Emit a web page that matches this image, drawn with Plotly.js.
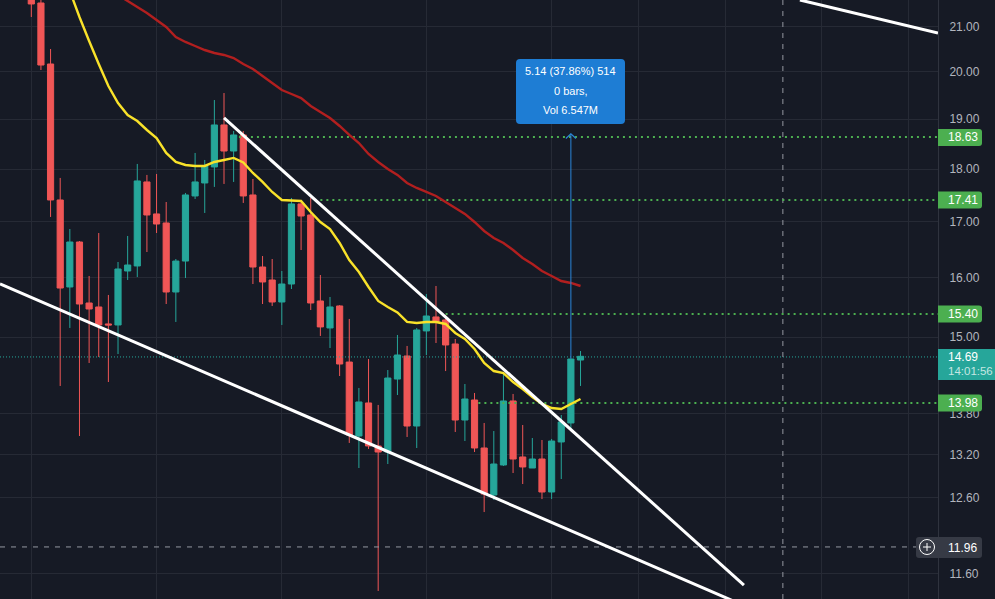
<!DOCTYPE html>
<html>
<head>
<meta charset="utf-8">
<script src="https://cdn.plot.ly/plotly-3.0.1.min.js"></script>
<style>html,body{margin:0;padding:0;background:#161a25;overflow:hidden}#c{width:995px;height:599px}</style>
</head>
<body>
<div id="c"></div>
<script>
// ---- candle values (log price chart) ----
const opens = [21.9,21.554,20.173,17.406,15.838,16.63,15.565,15.498,15.215,15.198,16.115,16.203,17.75,17.144,16.977,15.752,16.29,17.482,17.73,18.041,18.882,18.356,18.678,17.501,16.185,15.958,15.582,15.889,17.331,17.125,15.599,15.149,15.515,14.599,13.473,13.965,13.328,13.241,14.332,14.695,13.62,15.1,15.331,15.281,14.888,13.709,14.01,13.299,12.638,13.056,13.995,13.17,13.013,13.141,12.679,13.386,13.665,14.631];
const highs = [22.1,21.86,20.504,17.827,16.866,16.648,16.028,16.793,15.701,16.273,16.739,18.1,17.885,17.904,17.368,16.326,17.539,18.317,18.178,19.4,19.548,18.759,18.759,17.807,16.379,16.326,16.115,17.444,17.406,17.444,16.045,15.667,15.53,15.298,14.194,14.647,13.935,14.473,15.034,14.856,15.149,15.718,15.855,15.364,14.969,14.255,14.117,13.665,13.546,14.442,14.102,13.635,13.444,13.415,13.43,13.784,14.65,14.775];
const lows = [21.229,20.042,17.088,14.225,15.149,13.473,14.584,14.679,14.286,14.727,15.958,16.01,16.45,16.793,15.548,15.248,15.993,17.425,17.162,17.654,17.711,17.75,17.35,15.889,15.548,15.515,15.198,15.803,16.486,15.447,15.018,14.823,14.379,13.372,13.013,13.285,11.388,13.07,14.086,13.459,13.299,14.711,14.904,14.457,13.532,13.4,13.241,12.406,12.569,13.042,12.943,12.789,13.013,12.582,12.582,12.859,13.576,14.225];
const closes = [21.531,20.151,17.406,15.82,16.63,15.548,15.464,15.198,15.198,16.15,16.22,17.769,17.125,16.958,15.752,16.29,17.501,17.75,18.06,18.882,18.356,18.678,17.482,16.185,15.924,15.582,15.889,17.331,17.106,15.565,15.166,15.498,14.568,13.488,13.98,13.328,13.241,14.348,14.711,13.62,15.116,15.347,15.248,14.872,13.709,14.025,13.299,12.651,13.07,13.995,13.141,13.028,13.141,12.679,13.4,13.679,14.647,14.69];

// ---- moving averages ----
const maFastStart = 4;
const maFast = [21.836,21.229,20.684,20.173,19.698,19.337,19.087,18.963,18.779,18.617,18.317,18.139,18.08,18.06,18.06,18.139,18.178,18.218,18.129,17.924,17.75,17.558,17.406,17.397,17.387,17.181,16.995,16.866,16.612,16.308,16.097,15.838,15.599,15.498,15.406,15.248,15.231,15.248,15.248,15.215,15.067,14.969,14.807,14.584,14.457,14.426,14.286,14.178,14.056,13.95,13.889,13.874,13.95,14.025];
const maSlowStart = 9;
const maSlow = [21.74,21.601,21.461,21.322,21.16,21.0,20.774,20.661,20.571,20.482,20.416,20.372,20.305,20.173,20.064,19.912,19.762,19.612,19.527,19.442,19.275,19.15,19.025,18.861,18.678,18.516,18.297,18.139,18.002,17.885,17.73,17.634,17.558,17.482,17.368,17.256,17.144,16.995,16.83,16.702,16.612,16.486,16.344,16.238,16.115,16.028,15.941,15.907,15.855];

// ---- axis ----
const tickValues = [11.6,12.6,13.2,13.8,15,16,17,18,19,20,21];
const tickLabels = ["11.60","12.60","13.20","13.80","15.00","16.00","17.00","18.00","19.00","20.00","21.00"];
const gridBars = [0,13,26,41,54,63,72,82,91];
const xRange = [-3.248,94.1];
const priceRange = [11.289,21.624];

// ---- drawings ----
const lowerTrendX = [-3.25,73.55], lowerTrendY = [15.89,11.23];
const upperTrendX = [20,73.96], upperTrendY = [19.027,11.46];
const topTrendX = [79.77,94.1], topTrendY = [21.624,20.864];
const levelStarts = [21.55,30,43,46.4];
const levelPrices = [18.637,17.405,15.381,13.964];
const levelLabels = ["18.63","17.41","15.40","13.98"];
const lastPrice = 14.68, lastLabel = "14.69", countdown = "14:01:56";
const crossBar = 78, crossPrice = 11.945, crossLabel = "11.96";
const measureBar = 56, measureTop = 18.70, measureBottom = 14.65;
const measureText = ["5.14 (37.86%) 514","0 bars,","Vol 6.547M"];

const FONT = '"Liberation Sans", Arial, sans-serif';
const bars = opens.map((_, i) => i);
const line = (x, y, color, width, dash) => ({type:'scatter', mode:'lines', x, y, hoverinfo:'skip', showlegend:false,
  line:{color, width, dash: dash || 'solid', simplify:false}});

const traces = [
  line([xRange[0],xRange[1]],[lastPrice,lastPrice],'#26a69a',1,'1px,2px'),
  line([xRange[0],xRange[1]],[crossPrice,crossPrice],'#9598a1',1,'5px,6px'),
  line([crossBar,crossBar],priceRange,'#9598a1',1,'5px,6px'),
  ...levelPrices.map((p,i)=>line([levelStarts[i],xRange[1]],[p,p],'#4caf50',2,'2px,4px')),
  line(bars.slice(maFastStart),maFast,'#f9e22a',2.4),
  line(bars.slice(maSlowStart),maSlow,'#b21f1f',2.4),
  line(lowerTrendX,lowerTrendY,'#ffffff',3),
  line(upperTrendX,upperTrendY,'#ffffff',3),
  line(topTrendX,topTrendY,'#ffffff',3),
  line([measureBar,measureBar],[measureBottom,measureTop],'#2a86d8',1),
  line([measureBar-0.52,measureBar,measureBar+0.52],[18.606,measureTop,18.606],'#2a86d8',1.2),
  {type:'candlestick', x:bars, open:opens, high:highs, low:lows, close:closes, hoverinfo:'skip', showlegend:false,
   whiskerwidth:0,
   increasing:{line:{color:'#26a69a',width:1},fillcolor:'#26a69a'},
   decreasing:{line:{color:'#f05656',width:1},fillcolor:'#f05656'}}
];

// ---- chrome placed in paper space ----
const W = 938, H = 599;
const fx = v => v / W, fy = v => 1 - v / H;
function rr(x0,y0,x1,y1,rL,rR){
  const p=(x,y)=>fx(x).toFixed(5)+','+fy(y).toFixed(5);
  return 'M'+p(x0+rL,y0)+' L'+p(x1-rR,y0)+' Q'+p(x1,y0)+' '+p(x1,y0+rR)+' L'+p(x1,y1-rR)+' Q'+p(x1,y1)+' '+p(x1-rR,y1)+
    ' L'+p(x0+rL,y1)+' Q'+p(x0,y1)+' '+p(x0,y1-rL)+' L'+p(x0,y0+rL)+' Q'+p(x0,y0)+' '+p(x0+rL,y0)+' Z';
}
const box = (x0,y0,x1,y1,rL,rR,color) => ({type:'path', xref:'paper', yref:'paper', path:rr(x0,y0,x1,y1,rL,rR), fillcolor:color, line:{width:0}, layer:'above'});
const text = (px,py,t,color,anchor,size,weight) => ({xref:'paper', yref:'paper', x:fx(px), y:fy(py), text:t, showarrow:false,
  xanchor:anchor||'left', yanchor:'middle', borderpad:0, font:{family:FONT,size:size||12,color:color||'#fff',weight:weight||400}});

const levelYs = [137.5,200,314,403];
const shapes = [
  box(516,59,625,124,4,4,'#1e7dd4'),
  ...levelYs.map(y=>box(938,y-8.5,982,y+8.5,0,3,'#4caf50')),
  box(938,349,995,380,0,0,'#26a69a'),
  box(916,537,938,558,3,0,'#363a45'),
  box(938,537,982,558,0,3,'#363a45'),
  {type:'circle', xref:'paper', yref:'paper', x0:fx(919.5), x1:fx(934.5), y0:fy(554.5), y1:fy(539.5), line:{color:'#fff',width:1}, fillcolor:'rgba(0,0,0,0)', layer:'above'},
  {type:'line', xref:'paper', yref:'paper', x0:fx(923), x1:fx(931), y0:fy(547), y1:fy(547), line:{color:'#fff',width:1}, layer:'above'},
  {type:'line', xref:'paper', yref:'paper', x0:fx(927), x1:fx(927), y0:fy(543), y1:fy(551), line:{color:'#fff',width:1}, layer:'above'}
];
const annotations = [
  text(570.5,71,measureText[0],'#fff','center',11),
  text(570.5,90.5,measureText[1],'#fff','center',11),
  text(570.5,110,measureText[2],'#fff','center',11),
  ...levelYs.map((y,i)=>text(947,y,levelLabels[i],'#fff')),
  text(947,357.5,lastLabel,'#fff'),
  text(947,371,countdown,'#c5e6e2','left',11.5),
  text(947,547.5,crossLabel,'#fff')
];

Plotly.newPlot('c', traces, {
  width:995, height:599, autosize:false,
  paper_bgcolor:'#161a25', plot_bgcolor:'#161a25',
  margin:{l:0,r:57,t:0,b:0,pad:0},
  hovermode:false, showlegend:false, dragmode:false,
  boxgap:0.36, boxgroupgap:0,
  xaxis:{type:'linear', range:xRange, tickmode:'array', tickvals:gridBars, showticklabels:false, ticks:'',
    showgrid:true, gridcolor:'#262a35', gridwidth:1, zeroline:false, showline:false, rangeslider:{visible:false}, fixedrange:true},
  yaxis:{type:'log', side:'right', range:priceRange.map(Math.log10), tickmode:'array', tickvals:tickValues, ticktext:tickLabels,
    showgrid:true, gridcolor:'#262a35', gridwidth:1, zeroline:false, showline:true, linecolor:'#2f333e', linewidth:1,
    ticks:'', ticklabelstandoff:8, tickfont:{family:FONT,size:12,color:'#b2b5be'}, fixedrange:true},
  shapes, annotations
}, {displayModeBar:false, staticPlot:true});
</script>
</body>
</html>
